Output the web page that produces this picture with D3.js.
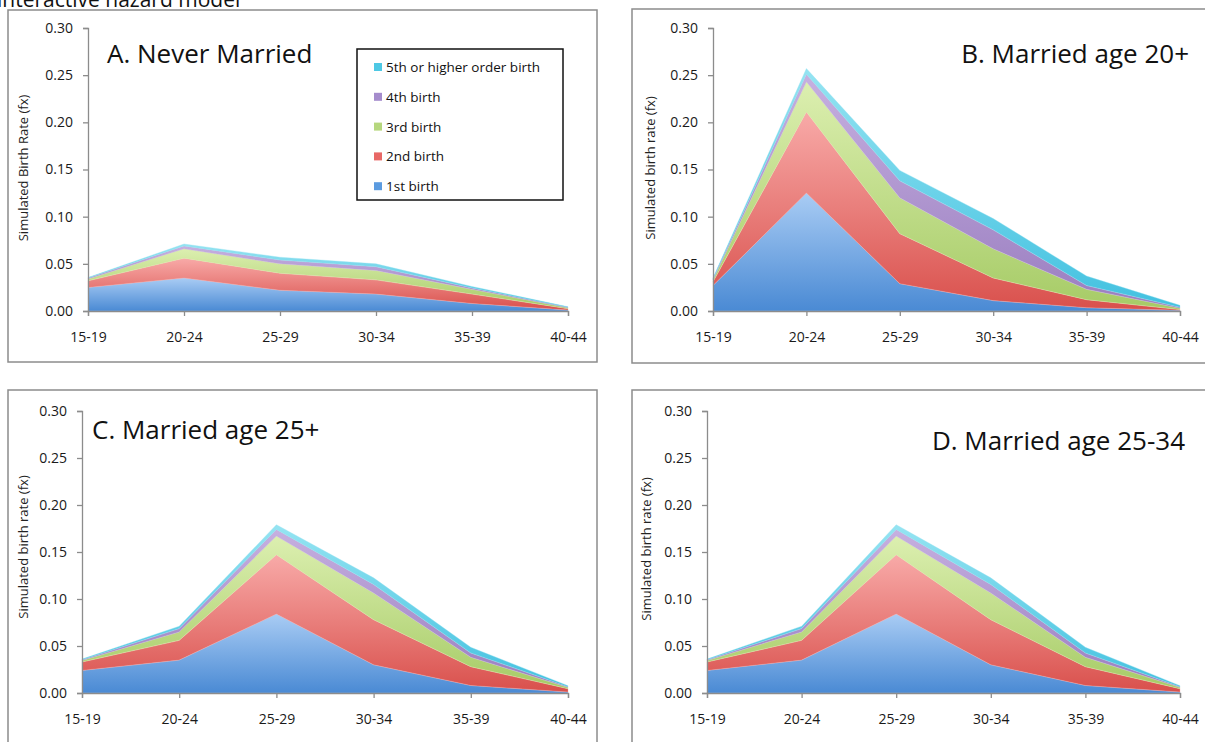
<!DOCTYPE html>
<html>
<head>
<meta charset="utf-8">
<script src="https://cdn.jsdelivr.net/npm/d3@7"></script>
<style>
  html, body { margin: 0; padding: 0; background: #fff; overflow: hidden; }
  svg { display: block; font-family: "Open Sans", "Noto Sans", sans-serif; }
</style>
</head>
<body>
<svg id="chart" width="1205" height="742"></svg>
<script>
// ---------- DATA ----------
const ageGroups = ["15-19", "20-24", "25-29", "30-34", "35-39", "40-44"];
const seriesNames = ["1st birth", "2nd birth", "3rd birth", "4th birth", "5th or higher order birth"];
const yTicks = [0.00, 0.05, 0.10, 0.15, 0.20, 0.25, 0.30];

// Panel A: Never Married (rate contributed by each birth order)
const neverFirst  = [0.025, 0.035, 0.022, 0.018, 0.008, 0.001];
const neverSecond = [0.007, 0.021, 0.018, 0.015, 0.010, 0.0015];
const neverThird  = [0.002, 0.010, 0.010, 0.010, 0.005, 0.001];
const neverFourth = [0.001, 0.003, 0.004, 0.004, 0.0015, 0.0005];
const neverFifth  = [0.0005, 0.002, 0.003, 0.003, 0.0015, 0.0005];

// Panel B: Married age 20+
const m20First  = [0.027, 0.125, 0.029, 0.011, 0.0035, 0.0007];
const m20Second = [0.004, 0.086, 0.053, 0.024, 0.0085, 0.0008];
const m20Third  = [0.002, 0.032, 0.038, 0.031, 0.011, 0.0015];
const m20Fourth = [0.001, 0.008, 0.018, 0.020, 0.004, 0.001];
const m20Fifth  = [0.001, 0.006, 0.011, 0.012, 0.010, 0.002];

// Panel C: Married age 25+
const m25First  = [0.024, 0.035, 0.084, 0.030, 0.008, 0.001];
const m25Second = [0.009, 0.021, 0.063, 0.048, 0.020, 0.0036];
const m25Third  = [0.0017, 0.009, 0.020, 0.0285, 0.010, 0.0014];
const m25Fourth = [0.0006, 0.0035, 0.007, 0.009, 0.0046, 0.0007];
const m25Fifth  = [0.0008, 0.0025, 0.005, 0.007, 0.006, 0.0011];

// Panel D: Married age 25-34
const m2534First  = [0.024, 0.035, 0.084, 0.030, 0.008, 0.001];
const m2534Second = [0.009, 0.021, 0.063, 0.048, 0.020, 0.0036];
const m2534Third  = [0.0017, 0.009, 0.020, 0.0285, 0.010, 0.0014];
const m2534Fourth = [0.0006, 0.0035, 0.007, 0.009, 0.0046, 0.0007];
const m2534Fifth  = [0.0008, 0.0025, 0.005, 0.007, 0.006, 0.0011];

const panelTitles = ["A. Never Married", "B. Married age 20+", "C. Married age 25+", "D. Married age 25-34"];
const yTitles = ["Simulated Birth Rate (fx)", "Simulated birth rate (fx)", "Simulated birth rate (fx)", "Simulated birth rate (fx)"];
const headerText = "interactive hazard model";

// ---------- STYLE ----------
const gradStops = [
  ["#a9ccf4", "#4a8ad4"],  // 1st - blue
  ["#f8aaa8", "#d9504c"],  // 2nd - red
  ["#dcefb0", "#a6cb66"],  // 3rd - green
  ["#c6b0e0", "#9a7ec0"],  // 4th - purple
  ["#95e4f2", "#43c1e0"]   // 5th - cyan
];
const legendColors = ["#5b9be0", "#e86866", "#b6d77e", "#a58ccc", "#4ec8e4"];

const panels = [
  { data: [neverFirst, neverSecond, neverThird, neverFourth, neverFifth],
    box: [8, 10, 597, 362], x: [88, 568], y: [311, 28],
    title: { x: 107, y: 63, anchor: "start" }, yt: { x: 23, y: 168 }, legend: true },
  { data: [m20First, m20Second, m20Third, m20Fourth, m20Fifth],
    box: [632, 9, 1220, 363], x: [713, 1180], y: [311, 28],
    title: { x: 1189, y: 63, anchor: "end" }, yt: { x: 650, y: 168 } },
  { data: [m25First, m25Second, m25Third, m25Fourth, m25Fifth],
    box: [8, 390, 597, 770], x: [82, 568], y: [693, 411],
    title: { x: 92, y: 439, anchor: "start" }, yt: { x: 23, y: 547 } },
  { data: [m2534First, m2534Second, m2534Third, m2534Fourth, m2534Fifth],
    box: [632, 390, 1220, 770], x: [707, 1180], y: [693, 411],
    title: { x: 1185, y: 450, anchor: "end" }, yt: { x: 646, y: 549 } }
];

const svg = d3.select("#chart");
const defs = svg.append("defs");

// header (clipped at top in the reference)
svg.append("text").attr("x", -3).attr("y", 7)
  .attr("font-size", 21).attr("fill", "#111").text(headerText);

panels.forEach((p, pi) => {
  const g = svg.append("g");
  // panel border
  g.append("rect")
    .attr("x", p.box[0]).attr("y", p.box[1])
    .attr("width", p.box[2] - p.box[0]).attr("height", p.box[3] - p.box[1])
    .attr("fill", "#fff").attr("stroke", "#8c8c8c").attr("stroke-width", 1.5);

  const x = d3.scalePoint().domain(ageGroups).range(p.x).padding(0);
  const y = d3.scaleLinear().domain([0, 0.30]).range(p.y);

  const rows = ageGroups.map((a, i) => {
    const r = { age: a };
    seriesNames.forEach((s, k) => { r[s] = p.data[k][i]; });
    return r;
  });
  const stacked = d3.stack().keys(seriesNames)(rows);

  // gradients
  seriesNames.forEach((s, k) => {
    const gr = defs.append("linearGradient")
      .attr("id", `grad${pi}_${k}`)
      .attr("x1", 0).attr("y1", 0).attr("x2", 0).attr("y2", 1);
    gr.append("stop").attr("offset", "0%").attr("stop-color", gradStops[k][0]);
    gr.append("stop").attr("offset", "100%").attr("stop-color", gradStops[k][1]);
  });

  const area = d3.area()
    .x(d => x(d.data.age))
    .y0(d => y(d[0]))
    .y1(d => y(d[1]));

  g.selectAll("path.layer").data(stacked).join("path")
    .attr("class", "layer")
    .attr("d", area)
    .attr("fill", (d, k) => `url(#grad${pi}_${k})`)
    .attr("stroke", (d, k) => gradStops[k][0])
    .attr("stroke-width", 0.6)
    .attr("stroke-opacity", 0.6);

  // axes
  const yAxis = d3.axisLeft(y).tickValues(yTicks).tickFormat(d3.format(".2f"))
    .tickSize(5).tickPadding(10);
  const ya = g.append("g").attr("transform", `translate(${p.x[0]},0)`).call(yAxis);
  const xAxis = d3.axisBottom(x).tickSize(5).tickPadding(16);
  const xa = g.append("g").attr("transform", `translate(0,${p.y[0]})`).call(xAxis);
  [ya, xa].forEach(a => {
    a.attr("font-family", "'Open Sans', sans-serif").attr("font-size", 14);
    a.select(".domain").attr("stroke", "#8c8c8c").attr("stroke-width", 1.3);
    a.selectAll(".tick line").attr("stroke", "#8c8c8c").attr("stroke-width", 1.3);
    a.selectAll(".tick text").attr("font-size", 14).attr("fill", "#1a1a1a");
  });

  // panel title
  g.append("text").attr("x", p.title.x).attr("y", p.title.y)
    .attr("text-anchor", p.title.anchor)
    .attr("font-size", 26).attr("fill", "#111").text(panelTitles[pi]);

  // y axis title
  g.append("text")
    .attr("transform", `translate(${p.yt.x},${p.yt.y}) rotate(-90)`)
    .attr("text-anchor", "middle").attr("dominant-baseline", "central")
    .attr("font-size", 13).attr("fill", "#222").text(yTitles[pi]);

  // legend
  if (p.legend) {
    const lg = g.append("g");
    lg.append("rect").attr("x", 357).attr("y", 49).attr("width", 206).attr("height", 151)
      .attr("fill", "#fff").attr("stroke", "#111").attr("stroke-width", 1.5);
    const order = [4, 3, 2, 1, 0];
    order.forEach((k, j) => {
      const cy = 67 + j * 29.8;
      lg.append("rect").attr("x", 374).attr("y", cy - 4).attr("width", 8).attr("height", 8)
        .attr("fill", legendColors[k]);
      lg.append("text").attr("x", 386).attr("y", cy).attr("dominant-baseline", "central")
        .attr("font-size", 13.5).attr("fill", "#111").text(seriesNames[k]);
    });
  }
});
</script>
</body>
</html>
